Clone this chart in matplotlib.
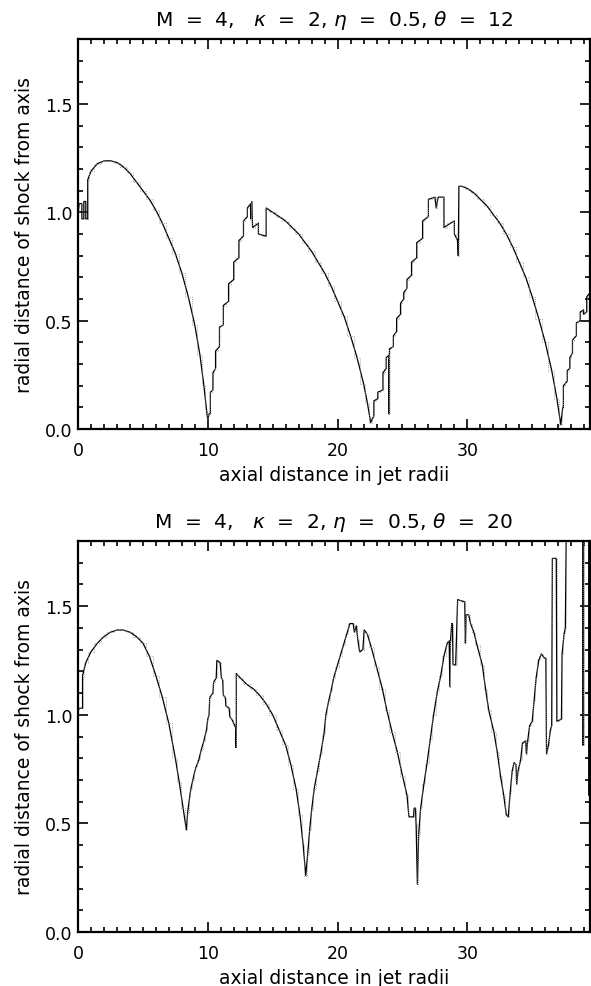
import numpy as np
import matplotlib
matplotlib.use("Agg")
import matplotlib.pyplot as plt
from matplotlib.ticker import MultipleLocator

plt.rcParams['font.family'] = ['DejaVu Sans']
plt.rcParams['mathtext.fontset'] = 'dejavusans'

# top panel, theta = 12
x_12 = [0.0, 0.1, 0.3, 0.3, 0.45, 0.45, 0.6, 0.6, 0.75, 0.75, 1.0, 1.5, 2.0, 2.5, 3.0,
        3.5, 4.0, 4.5, 5.0, 5.5, 6.0, 6.5, 7.0, 7.5, 8.0, 8.5, 9.0, 9.4, 9.7, 9.9,
        10.0, 10.1, 10.2, 10.2, 10.4, 10.4, 10.6, 10.6, 10.9, 10.9, 11.2, 11.2, 11.6, 11.6,
        12.0, 12.0, 12.4, 12.4, 12.75, 12.75, 13.05, 13.05, 13.3, 13.3, 13.4, 13.45, 13.9, 13.9,
        14.5, 14.5, 15.0, 15.5, 16.0, 16.5, 17.0, 17.5, 18.0, 18.5, 19.0, 19.5, 20.0, 20.5,
        21.0, 21.5, 22.0, 22.3, 22.55, 22.7, 22.8, 22.8, 23.1, 23.1, 23.5, 23.5, 23.75, 23.75,
        23.95, 23.95, 24.0, 24.0, 24.3, 24.3, 24.55, 24.55, 24.85, 24.85, 25.1, 25.1, 25.35, 25.35,
        25.7, 25.7, 26.1, 26.1, 26.55, 26.55, 27.0, 27.0, 27.5, 27.6, 27.75, 28.2, 28.2, 28.7,
        29.0, 29.0, 29.25, 29.3, 29.35, 29.6, 30.0, 30.5, 31.0, 31.5, 32.0, 32.5, 33.0, 33.5,
        34.0, 34.5, 35.0, 35.5, 36.0, 36.5, 36.9, 37.2, 37.35, 37.4, 37.4, 37.7, 37.7, 37.9,
        37.9, 38.1, 38.1, 38.4, 38.4, 38.7, 38.7, 38.95, 38.95, 39.2, 39.2, 39.6]
y_12 = [1.00, 1.04, 1.04, 0.97, 0.97, 1.05, 1.05, 0.97, 0.97, 1.15, 1.19, 1.225, 1.237, 1.238, 1.23,
        1.21, 1.18, 1.14, 1.10, 1.06, 1.01, 0.95, 0.88, 0.81, 0.72, 0.61, 0.48, 0.34, 0.20, 0.09,
        0.04, 0.07, 0.07, 0.17, 0.18, 0.26, 0.28, 0.36, 0.38, 0.47, 0.48, 0.57, 0.59, 0.67,
        0.69, 0.77, 0.79, 0.87, 0.89, 0.96, 0.98, 1.02, 1.04, 0.97, 1.05, 0.93, 0.95, 0.90,
        0.89, 1.02, 1.00, 0.98, 0.96, 0.93, 0.90, 0.86, 0.82, 0.77, 0.72, 0.66, 0.59, 0.52,
        0.43, 0.33, 0.21, 0.12, 0.03, 0.05, 0.06, 0.13, 0.14, 0.17, 0.18, 0.26, 0.28, 0.33,
        0.34, 0.07, 0.07, 0.37, 0.38, 0.43, 0.45, 0.51, 0.53, 0.58, 0.60, 0.63, 0.65, 0.69,
        0.71, 0.77, 0.79, 0.86, 0.88, 0.96, 0.98, 1.06, 1.07, 1.02, 1.07, 1.07, 0.93, 0.95,
        0.96, 0.90, 0.87, 0.80, 1.12, 1.12, 1.11, 1.09, 1.06, 1.03, 0.99, 0.95, 0.90, 0.84,
        0.77, 0.70, 0.61, 0.51, 0.40, 0.27, 0.14, 0.02, 0.10, 0.10, 0.20, 0.22, 0.27, 0.28,
        0.33, 0.35, 0.41, 0.43, 0.49, 0.50, 0.54, 0.55, 0.53, 0.54, 0.61, 0.64]

# bottom panel, theta = 20
x_20 = [0.0, 0.1, 0.35, 0.35, 0.6, 1.0, 1.5, 2.0, 2.5, 3.0, 3.5, 4.0, 4.5, 5.0, 5.5, 6.0,
        6.5, 7.0, 7.5, 7.8, 8.1, 8.35, 8.45, 8.6, 8.7, 8.85, 9.0, 9.1, 9.3, 9.5, 9.7, 9.9,
        10.0, 10.1, 10.15, 10.4, 10.45, 10.65, 10.7, 10.95, 11.05, 11.15, 11.2, 11.35, 11.4, 11.65,
        11.7, 11.85, 12.0, 12.15, 12.15, 12.2, 12.2, 12.5, 13.0, 13.5, 14.0, 14.5, 15.0, 15.5,
        16.0, 16.4, 16.8, 17.1, 17.35, 17.55, 17.7, 17.85, 18.0, 18.2, 18.45, 18.7, 18.95, 19.1,
        19.3, 19.5, 19.7, 19.95, 20.2, 20.45, 20.7, 20.95, 21.2, 21.3, 21.45, 21.55, 21.7, 21.95,
        22.05, 22.3, 22.6, 23.0, 23.45, 23.8, 24.2, 24.6, 25.0, 25.35, 25.5, 25.85, 25.9, 26.0,
        26.05, 26.15, 26.25, 26.4, 26.65, 26.9, 27.15, 27.4, 27.7, 27.95, 28.2, 28.45, 28.6, 28.65,
        28.7, 28.8, 28.85, 28.9, 29.1, 29.25, 29.8, 29.85, 29.9, 30.1, 30.25, 30.5, 30.75, 31.15,
        31.4, 31.65, 32.05, 32.3, 32.55, 32.8, 33.0, 33.15, 33.3, 33.45, 33.6, 33.75, 33.8, 33.9,
        34.1, 34.25, 34.5, 34.55, 34.65, 34.8, 35.0, 35.15, 35.3, 35.5, 35.7, 35.95, 36.05, 36.1,
        36.25, 36.4, 36.5, 36.55, 36.85, 36.9, 37.25, 37.3, 37.45, 37.55, 37.65, 38.9, 38.9, 38.95,
        38.95, 39.35, 39.35, 39.6]
y_20 = [1.02, 1.03, 1.03, 1.18, 1.24, 1.29, 1.33, 1.36, 1.38, 1.39, 1.39, 1.38, 1.36, 1.33, 1.27, 1.18,
        1.08, 0.96, 0.80, 0.69, 0.57, 0.47, 0.55, 0.62, 0.66, 0.70, 0.74, 0.76, 0.79, 0.84, 0.88, 0.93,
        0.98, 1.00, 1.08, 1.10, 1.15, 1.17, 1.25, 1.24, 1.17, 1.16, 1.09, 1.08, 1.04, 1.03,
        0.99, 0.98, 0.96, 0.94, 0.85, 0.85, 1.19, 1.17, 1.14, 1.12, 1.09, 1.05, 1.00, 0.93,
        0.86, 0.77, 0.66, 0.54, 0.40, 0.26, 0.36, 0.47, 0.56, 0.66, 0.74, 0.82, 0.91, 1.00,
        1.06, 1.11, 1.17, 1.22, 1.27, 1.32, 1.37, 1.42, 1.42, 1.38, 1.41, 1.35, 1.29, 1.30,
        1.39, 1.37, 1.31, 1.22, 1.12, 1.02, 0.92, 0.83, 0.72, 0.63, 0.53, 0.53, 0.57, 0.57,
        0.50, 0.22, 0.45, 0.57, 0.68, 0.78, 0.89, 1.00, 1.11, 1.18, 1.27, 1.33, 1.34, 1.13,
        1.34, 1.42, 1.42, 1.23, 1.23, 1.53, 1.52, 1.33, 1.46, 1.46, 1.42, 1.38, 1.32, 1.23,
        1.12, 1.02, 0.92, 0.83, 0.72, 0.63, 0.54, 0.53, 0.64, 0.74, 0.78, 0.77, 0.68, 0.74,
        0.79, 0.87, 0.88, 0.82, 0.88, 0.95, 0.97, 1.07, 1.17, 1.25, 1.28, 1.26, 1.26, 0.82,
        0.86, 0.93, 0.95, 1.72, 1.72, 0.97, 0.98, 1.28, 1.37, 1.40, 2.0, 2.0, 0.86, 0.86,
        2.0, 2.0, 0.63, 0.63]

titles = [r"M  =  4,   $\kappa$  =  2, $\eta$  =  0.5, $\theta$  =  12",
          r"M  =  4,   $\kappa$  =  2, $\eta$  =  0.5, $\theta$  =  20"]
series = [(x_12, y_12), (x_20, y_20)]

fig = plt.figure(figsize=(5.91, 9.87), dpi=100)
boxes = [[78/591, 557/987, 512/591, 390/987], [78/591, 54/987, 512/591, 391/987]]

for box, (xs, ys), title in zip(boxes, series, titles):
    ax = fig.add_axes(box)
    ax.plot(xs, ys, color="black", lw=0.9)
    # faint dotted companion trace as in the original
    ax.plot(xs, ys, color="0.55", lw=0.6, ls=(0, (1, 1.5)), drawstyle="steps-mid")
    ax.set_xlim(0, 39.45)
    ax.set_ylim(0, 1.8)
    ax.xaxis.set_major_locator(MultipleLocator(10))
    ax.xaxis.set_minor_locator(MultipleLocator(1))
    ax.yaxis.set_major_locator(MultipleLocator(0.5))
    ax.yaxis.set_minor_locator(MultipleLocator(0.1))
    ax.yaxis.set_major_formatter(plt.FormatStrFormatter("%.1f"))
    ax.tick_params(which="both", direction="in", top=True, right=True, width=1.2,
                   labelsize=12.5)
    ax.tick_params(which="major", length=7)
    ax.tick_params(which="minor", length=3.5)
    ax.tick_params(axis="x", pad=9)
    ax.tick_params(axis="y", pad=4)
    for s in ax.spines.values():
        s.set_linewidth(1.6)
    ax.set_title(title, fontsize=14.5, pad=10)
    ax.set_xlabel("axial distance in jet radii", fontsize=13.5, labelpad=4)
    ax.set_ylabel("radial distance of shock from axis", fontsize=13.5, labelpad=8)

fig.savefig("out.png", dpi=100)
